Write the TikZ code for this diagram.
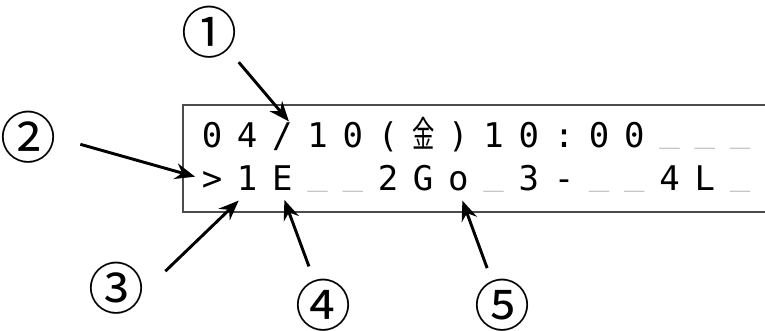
\documentclass[tikz,border=0pt]{standalone}
\usepackage{fontspec}
\usepackage{graphicx}
\newfontfamily\lcdfont{DejaVu Sans Mono}
\newfontfamily\cjk{Noto Sans CJK JP}
\usetikzlibrary{arrows.meta}

\tikzset{
  celda/.style={inner sep=0pt, text height=18.75pt, text depth=0pt,
    font=\lcdfont\fontsize{25.5}{25.5}\selectfont},
  vacio/.style={celda, text=black!22},
  marca/.style={circle, inner sep=0pt, minimum size=30pt,
    font=\cjk\fontsize{42}{42}\selectfont},
  flecha/.style={line width=2.2pt, -{Stealth[length=15pt,width=12pt,inset=5pt]}}
}

\begin{document}
\begin{tikzpicture}[x=0.75pt,y=-0.75pt]
    \useasboundingbox (0,0) rectangle (765,331);

    % Pantalla
    \draw[line width=1.6pt, black!70] (766,105) -- (183,105) -- (183,212) -- (766,212);

    % Fila 1
    \foreach \c [count=\i from 0] in {0,4,/,1,0,{(},{\scalebox{0.62}[1]{\cjk\fontsize{27}{27}\selectfont 金}},{)},1,0,:,0,0}
        \node[celda] (a\i) at (212+35.2*\i,135.5) {\c};
    \foreach \i in {13,14,15}
        \node[vacio] (a\i) at (212+35.2*\i,135.5) {\raisebox{0.2em}{\_}};

    % Fila 2
    \foreach \i/\c in {0/>,1/1,2/E,5/2,6/G,7/o,9/3,10/-,13/4,14/L}
        \node[celda] (b\i) at (212+35.2*\i,178.5) {\c};
    \foreach \i in {3,4,8,11,12,15}
        \node[vacio] (b\i) at (212+35.2*\i,178.5) {\raisebox{0.2em}{\_}};

    % Marcas
    \node[marca] (n1) at (209,32)  {①};
    \node[marca] (n2) at (28,137)  {②};
    \node[marca] (n3) at (117,288) {③};
    \node[marca] (n4) at (323,305) {④};
    \node[marca] (n5) at (502,305) {⑤};

    % Flechas
    \draw[flecha, shorten <=3pt] (n1.-45) -- ([xshift=-3pt,yshift=1pt]a2.north east);
    \draw[flecha, shorten <=11pt, shorten >=5pt] (n2.-5) -- (b0.west);
    \draw[flecha, shorten <=11pt] (n3.10) -- ([xshift=1.5pt,yshift=-7pt]b1.south west);
    \draw[flecha, shorten <=2pt] (n4.110) -- ([xshift=1.5pt,yshift=-6.5pt]b2.south);
    \draw[flecha, shorten <=1pt] (n5.112) -- ([xshift=3pt,yshift=-7pt]b7.south);
\end{tikzpicture}
\end{document}
